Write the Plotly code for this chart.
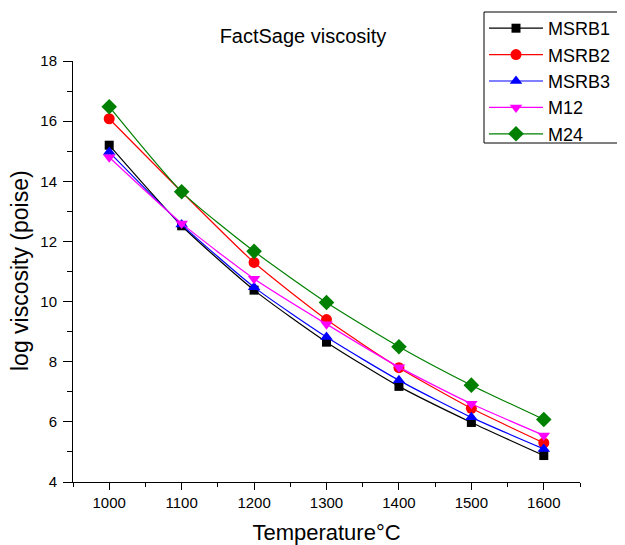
import plotly.graph_objects as go

temperature = [1000, 1100, 1200, 1300, 1400, 1500, 1600]
msrb1 = [15.20, 12.52, 10.38, 8.65, 7.18, 5.98, 4.88]
msrb2 = [16.08, 13.65, 11.30, 9.40, 7.80, 6.45, 5.30]
msrb3 = [14.97, 12.56, 10.48, 8.82, 7.38, 6.15, 5.10]
m12 = [14.80, 12.60, 10.76, 9.25, 7.82, 6.60, 5.55]
m24 = [16.48, 13.65, 11.67, 9.97, 8.50, 7.22, 6.08]

series = [
    ("MSRB1", msrb1, "#000000", "square", 9),
    ("MSRB2", msrb2, "#FF0000", "circle", 11),
    ("MSRB3", msrb3, "#0000FF", "triangle-up", 11),
    ("M12", m12, "#FF00FF", "triangle-down", 11),
    ("M24", m24, "#008000", "diamond", 12),
]

FONT = "Liberation Sans, Arial, sans-serif"
OFF = 8  # page body margin offset

W, H = 625, 545
L, R_EDGE, T, B_EDGE = 73 - OFF, 580 - OFF, 61 - OFF, 482 - OFF
PW, PH = R_EDGE - L, B_EDGE - T


def px_x(p):
    return (p - OFF - L) / PW


def px_y(p):
    return (B_EDGE - (p - OFF)) / PH


fig = go.Figure()
for name, vals, color, sym, size in series:
    fig.add_trace(go.Scatter(
        x=temperature, y=vals, name=name, mode="lines+markers",
        line=dict(color=color, width=1.2, shape="spline", smoothing=0.6),
        marker=dict(color=color, symbol=sym, size=size, line=dict(width=0)),
    ))

# legend frame (runs past the right edge as in the reference)
fig.add_shape(type="rect", xref="paper", yref="paper",
              x0=px_x(484), x1=px_x(660), y0=px_y(143), y1=px_y(12),
              line=dict(color="black", width=1), fillcolor="rgba(0,0,0,0)", layer="above")

# y-axis title
fig.add_annotation(text="log viscosity (poise)", xref="paper", yref="paper",
                   x=px_x(20), y=px_y(271), xanchor="center", yanchor="middle",
                   textangle=-90, showarrow=False, font=dict(size=23))

fig.update_layout(
    width=W, height=H,
    margin=dict(l=L, r=W - R_EDGE, t=T, b=H - B_EDGE, autoexpand=False),
    paper_bgcolor="white", plot_bgcolor="white",
    font=dict(family=FONT, color="black"),
    title=dict(text="FactSage viscosity", x=(303 - OFF) / W, xanchor="center",
               y=1 - (36 - OFF) / H, yanchor="middle", font=dict(size=20)),
    showlegend=True,
    legend=dict(x=px_x(484), xanchor="left", y=px_y(10),
                yanchor="top", borderwidth=0, bgcolor="rgba(255,255,255,0)",
                font=dict(size=18), tracegroupgap=0, itemwidth=54),
    xaxis=dict(range=[950, 1650], tickvals=temperature, showline=True, linecolor="black",
               linewidth=1, ticks="outside", ticklen=7, tickcolor="black",
               tickfont=dict(size=15), showgrid=False, zeroline=False, automargin=False,
               minor=dict(tickvals=[950, 1050, 1150, 1250, 1350, 1450, 1550, 1650],
                          ticks="outside", ticklen=4, tickcolor="black"),
               title=dict(text="Temperature°C", font=dict(size=22), standoff=14)),
    yaxis=dict(range=[4, 18], dtick=2, showline=True, linecolor="black", linewidth=1,
               ticks="outside", ticklen=9, tickcolor="black", tickfont=dict(size=15),
               ticklabelstandoff=3,
               showgrid=False, zeroline=False, automargin=False,
               minor=dict(dtick=1, ticks="outside", ticklen=5, tickcolor="black")),
)

fig.write_html("out.html")
